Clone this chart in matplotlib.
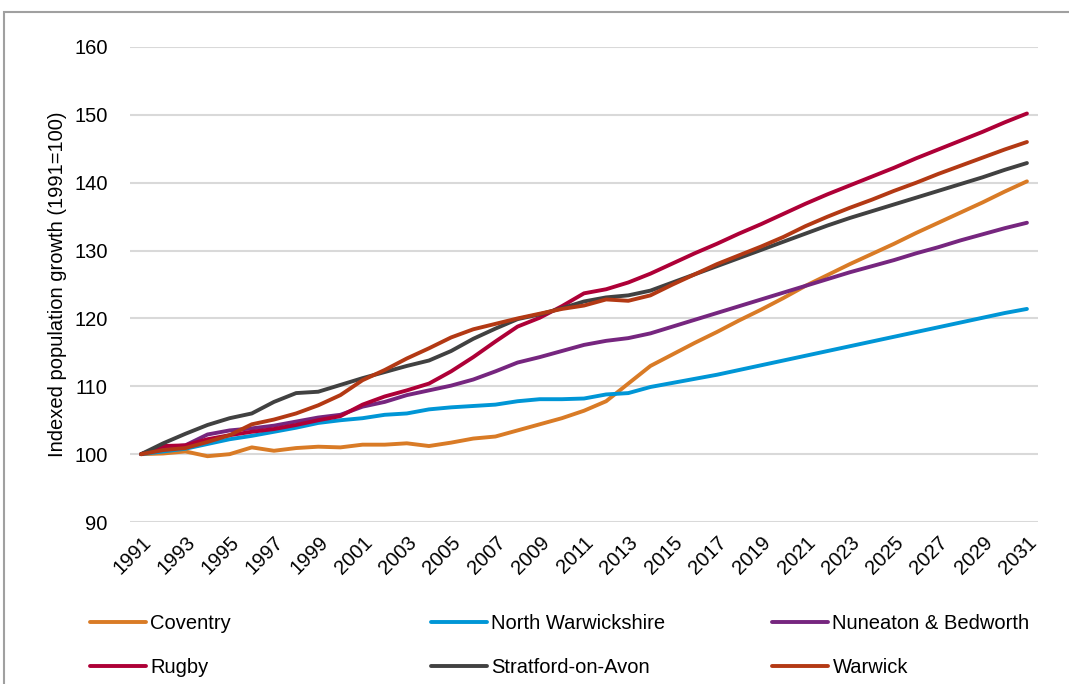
import matplotlib

matplotlib.use("Agg")

import matplotlib.pyplot as plt
from matplotlib.patches import Rectangle

plt.rcParams["font.family"] = ["Liberation Sans", "DejaVu Sans"]

YEARS = list(range(1991, 2032))

COVENTRY = [100.0, 100.1, 100.4, 99.7, 100.0, 101.0, 100.5, 100.9, 101.1, 101.0,
            101.4, 101.4, 101.6, 101.2, 101.7, 102.3, 102.6, 103.5, 104.4, 105.3,
            106.4, 107.8, 110.4, 113.0, 114.7, 116.4, 118.0, 119.7, 121.3, 123.0,
            124.8, 126.4, 128.0, 129.5, 131.0, 132.6, 134.1, 135.6, 137.1, 138.7,
            140.2]
NORTH_WARKS = [100.0, 100.4, 100.8, 101.5, 102.2, 102.7, 103.3, 103.9, 104.6, 105.0,
               105.3, 105.8, 106.0, 106.6, 106.9, 107.1, 107.3, 107.8, 108.1, 108.1,
               108.2, 108.8, 109.0, 109.9, 110.5, 111.1, 111.7, 112.4, 113.1, 113.8,
               114.5, 115.2, 115.9, 116.6, 117.3, 118.0, 118.7, 119.4, 120.1, 120.8,
               121.4]
NUNEATON = [100.0, 101.0, 101.3, 102.9, 103.5, 103.8, 104.2, 104.8, 105.4, 105.8,
            107.0, 107.7, 108.7, 109.4, 110.1, 111.0, 112.2, 113.5, 114.3, 115.2,
            116.1, 116.7, 117.1, 117.8, 118.8, 119.8, 120.8, 121.8, 122.8, 123.8,
            124.8, 125.8, 126.8, 127.7, 128.6, 129.6, 130.5, 131.5, 132.4, 133.3,
            134.1]
RUGBY = [100.0, 101.2, 101.3, 102.2, 102.8, 103.3, 103.7, 104.3, 105.0, 105.6,
         107.3, 108.5, 109.4, 110.4, 112.2, 114.3, 116.6, 118.8, 120.1, 121.8,
         123.7, 124.3, 125.3, 126.6, 128.1, 129.6, 131.0, 132.5, 133.9, 135.4,
         136.9, 138.3, 139.6, 140.9, 142.2, 143.6, 144.9, 146.2, 147.5, 148.9,
         150.2]
STRATFORD = [100.0, 101.6, 103.0, 104.3, 105.3, 106.0, 107.7, 109.0, 109.2, 110.2,
             111.2, 112.1, 113.0, 113.8, 115.2, 117.0, 118.5, 119.9, 120.6, 121.5,
             122.5, 123.1, 123.4, 124.1, 125.3, 126.5, 127.7, 128.9, 130.1, 131.3,
             132.5, 133.7, 134.8, 135.8, 136.8, 137.8, 138.8, 139.8, 140.8, 141.9,
             142.9]
WARWICK = [100.0, 100.6, 100.9, 101.8, 102.8, 104.4, 105.1, 106.0, 107.2, 108.7,
           110.9, 112.4, 114.1, 115.6, 117.2, 118.4, 119.2, 120.0, 120.7, 121.4,
           121.9, 122.8, 122.6, 123.4, 125.0, 126.5, 128.0, 129.3, 130.6, 132.0,
           133.6, 135.0, 136.3, 137.5, 138.8, 140.0, 141.3, 142.5, 143.7, 144.9,
           146.0]

SERIES = [
    ("Coventry", COVENTRY, "#D97B26"),
    ("North Warwickshire", NORTH_WARKS, "#0096D6"),
    ("Nuneaton & Bedworth", NUNEATON, "#76267F"),
    ("Rugby", RUGBY, "#AE0037"),
    ("Stratford-on-Avon", STRATFORD, "#414141"),
    ("Warwick", WARWICK, "#B33914"),
]

fig = plt.figure(figsize=(10.69, 6.84), dpi=100)
ax = fig.add_axes([0.1216, 0.2368, 0.8494, 0.6945])

x = list(range(len(YEARS)))
lines = {}
for name, vals, color in SERIES:
    (ln,) = ax.plot(x, vals, color=color, linewidth=2.8, label=name,
                    solid_joinstyle="round", solid_capstyle="round")
    lines[name] = ln

ax.set_xlim(-0.5, len(YEARS) - 0.5)
ax.set_ylim(90, 160)
ax.set_yticks(range(90, 161, 10))
ax.set_xticks(x[::2])
ax.set_xticklabels([str(y) for y in YEARS[::2]], rotation=45, ha="right",
                   va="top", rotation_mode="anchor")
ax.tick_params(axis="both", length=0, labelsize=14.5)
ax.tick_params(axis="y", pad=16)
ax.tick_params(axis="x", pad=8)
ax.grid(axis="y", color="#D9D9D9", linewidth=1.5, zorder=0)
ax.set_axisbelow(True)
for side in ax.spines.values():
    side.set_visible(False)
ax.set_ylabel("Indexed population growth (1991=100)", fontsize=14.5, labelpad=5)

# Excel lays the legend out on a fixed 3-column grid, so one legend per column.
columns = [("Coventry", "Rugby"),
           ("North Warwickshire", "Stratford-on-Avon"),
           ("Nuneaton & Bedworth", "Warwick")]
col_x = [90 / 1069, 431 / 1069, 772 / 1069]
for names, cx in zip(columns, col_x):
    fig.legend([lines[n] for n in names], names, loc="upper left",
               bbox_to_anchor=(cx, 0.1025), frameon=False, fontsize=14.5,
               handlelength=2.8, handletextpad=0.2, labelspacing=1.25,
               borderpad=0, borderaxespad=0)

# grey chart-area border, running off the right and bottom edges
fig.patches.append(Rectangle((4 / 1069, -0.05), 1.1, 1 - 12 / 684 + 0.05,
                             transform=fig.transFigure, fill=False,
                             edgecolor="#A0A0A0", linewidth=1.5, clip_on=False))

fig.savefig("out.png", dpi=100)
